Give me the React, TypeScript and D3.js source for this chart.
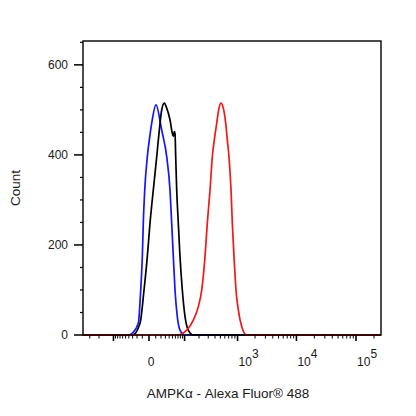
import React from 'react';
import * as d3 from 'd3';

// fluorescence intensity (data units) and counts
const X_MIN = -400;
const X_MAX = 262144;

const blueX = [-400, -40, -30, -17.4, -12.8, -10, -8.4, -6.1, -2.3, 0.4, 3.7, 10.5, 21.5, 33.3, 42.4, 47.6, 52.9, 58.7, 67.3, 78.4, 102, 262144];
const blueY = [0, 0, 5, 26, 100, 174, 248, 322, 396, 433, 470, 511, 455, 396, 322, 248, 174, 100, 41, 11, 0, 0];

const blackX = [-400, -30, -14.1, -7.2, -2.3, 1.3, 6.1, 11.8, 16.6, 21.5, 27.3, 33.3, 42.4, 49.5, 52.9, 56.2, 58.7, 61.2, 65, 71.3, 78.4, 88.9, 102.4, 120.8, 154, 262144];
const blackY = [0, 0, 26, 100, 174, 248, 322, 396, 455, 500, 515, 504, 478, 448, 441, 452, 448, 396, 322, 248, 174, 100, 41, 11, 0, 0];

const redX = [-400, 65, 112, 154, 194, 226, 261, 288, 324, 357, 388, 429, 472, 513, 564, 622, 664, 710, 771, 812, 869, 941, 1032, 1180, 1439, 262144];
const redY = [0, 0, 11, 33, 63, 100, 174, 248, 322, 396, 433, 470, 504, 515, 504, 470, 433, 396, 322, 248, 174, 100, 56, 19, 0, 0];

const yMajorTicks = [0, 200, 400, 600];
const yMinorTicks = [50, 100, 150, 250, 300, 350, 450, 500, 550, 650];

const xMajorTicks = [-100, 0, 100, 1000, 10000, 100000];
const xLabelValues = [0, 1000, 10000, 100000];
const xLabelExps = ['', '3', '4', '5'];

const FONT = 'Liberation Sans, Arial, sans-serif';

export default function App() {
  const left = 83, right = 381, top = 41, bottom = 335;

  const x = d3.scaleSymlog().constant(34).domain([X_MIN, X_MAX]).range([left, right]);
  const y = d3.scaleLinear().domain([0, 653]).range([bottom, top]);

  // minor ticks for the biexponential axis
  const xMinorTicks: number[] = [];
  for (const m of [2, 3]) xMinorTicks.push(-m * 100);
  for (let m = 1; m <= 9; m++) { xMinorTicks.push(-m * 10); xMinorTicks.push(m * 10); }
  for (const dec of [100, 1000, 10000]) {
    for (let m = 2; m <= 9; m++) xMinorTicks.push(m * dec);
  }
  xMinorTicks.push(200000);

  const line = (xs: number[], ys: number[]) =>
    d3.line<number>()
      .x((_, i) => x(xs[i]))
      .y((d) => y(d))
      .curve(d3.curveMonotoneX)(ys) || '';

  const series = [
    { xs: blueX, ys: blueY, color: '#1414ff' },
    { xs: blackX, ys: blackY, color: '#000000' },
    { xs: redX, ys: redY, color: '#f01818' },
  ];

  return (
    <svg width={416} height={416} style={{ position: 'absolute', left: 0, top: 0, background: '#fff' }}
      fontFamily={FONT}>
      <rect x={0} y={0} width={416} height={416} fill="#fff" />

      {series.map((s, i) => (
        <path key={i} d={line(s.xs, s.ys)} fill="none" stroke={s.color} strokeWidth={1.7} strokeLinejoin="round" />
      ))}

      {/* frame */}
      <rect x={left} y={top} width={right - left} height={bottom - top} fill="none" stroke="#000" strokeWidth={1.4} />

      {/* y axis */}
      {yMajorTicks.map((t) => (
        <g key={'ym' + t}>
          <line x1={left - 9} x2={left} y1={y(t)} y2={y(t)} stroke="#000" strokeWidth={1.5} />
          <text x={68} y={y(t)} dy="0.35em" textAnchor="end" fontSize={12} fill="#1a1a1a">{t}</text>
        </g>
      ))}
      {yMinorTicks.map((t) => (
        <line key={'yn' + t} x1={left - 3} x2={left} y1={y(t)} y2={y(t)} stroke="#000" strokeWidth={1.2} />
      ))}

      {/* x axis */}
      {xMajorTicks.map((t) => (
        <line key={'xm' + t} x1={x(t)} x2={x(t)} y1={bottom} y2={bottom + 6} stroke="#000" strokeWidth={1.6} />
      ))}
      {xMinorTicks.map((t) => (
        <line key={'xn' + t} x1={x(t)} x2={x(t)} y1={bottom} y2={bottom + 3.5} stroke="#000" strokeWidth={1} />
      ))}
      {xLabelValues.map((v, i) => (
        xLabelExps[i] === '' ? (
          <text key={'xl' + v} x={x(v) + 2} y={366} textAnchor="middle" fontSize={12} fill="#1a1a1a">{v}</text>
        ) : (
          <text key={'xl' + v} x={x(v) + 1} y={366} textAnchor="start" fontSize={12} fill="#1a1a1a">
            10<tspan dy={-8}>{xLabelExps[i]}</tspan>
          </text>
        )
      ))}

      {/* axis titles */}
      <text x={228} y={398} textAnchor="middle" fontSize={13.5} fill="#1a1a1a">AMPKα - Alexa Fluor® 488</text>
      <text transform="translate(20,188) rotate(-90)" textAnchor="middle" fontSize={13.5} fill="#1a1a1a">Count</text>
    </svg>
  );
}
